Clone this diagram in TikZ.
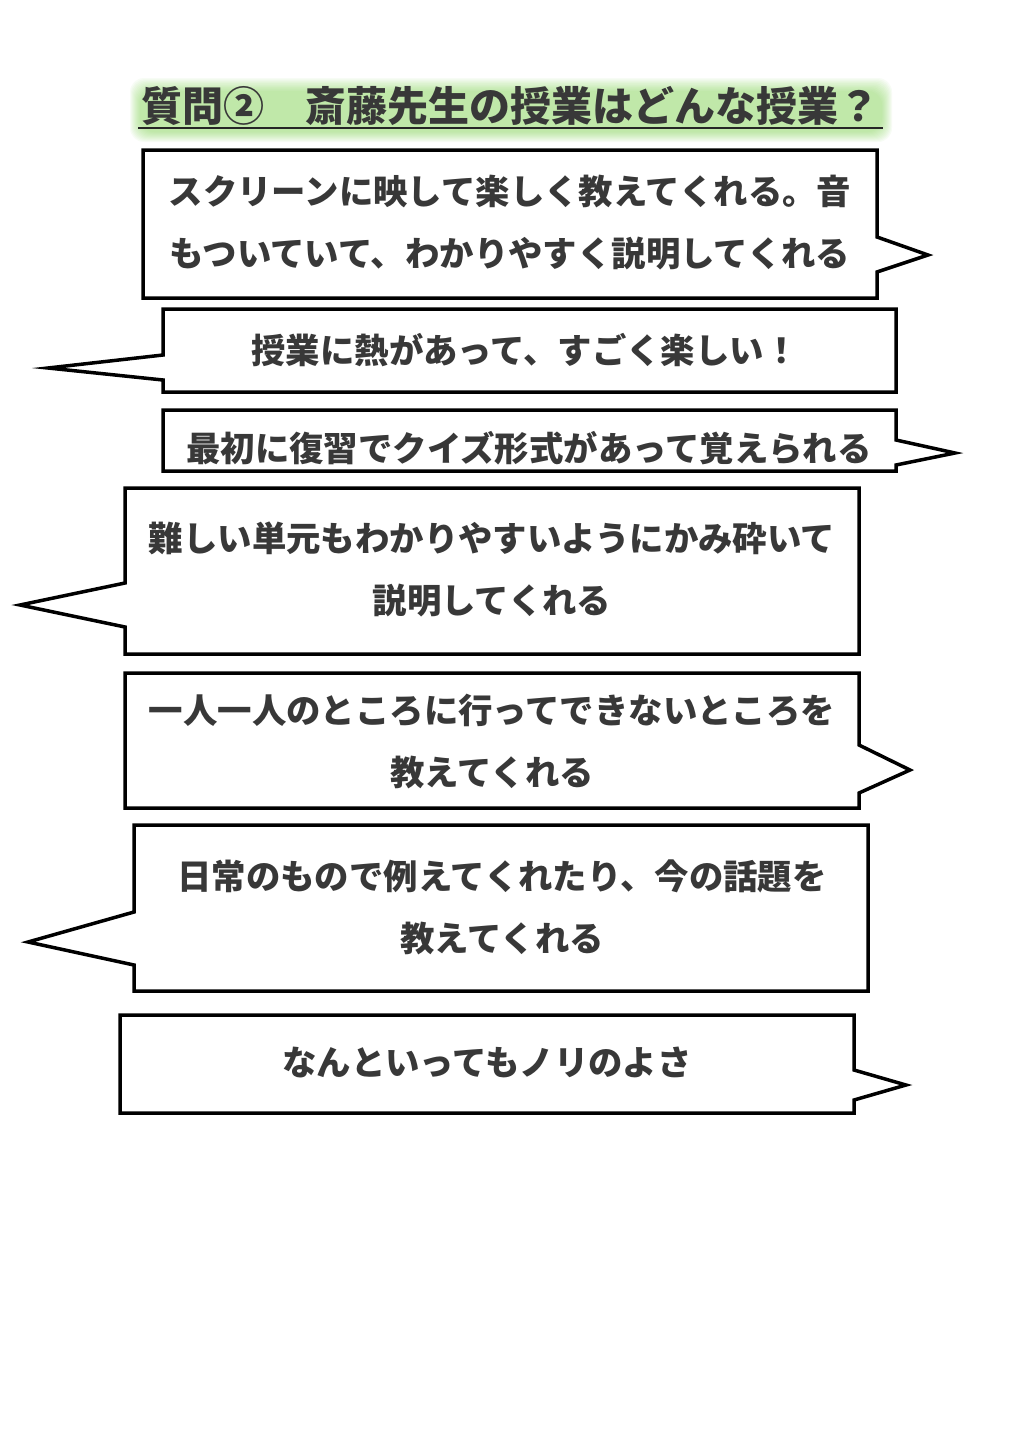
\documentclass[tikz,border=0pt]{standalone}
\usepackage{fontspec}
\newfontfamily\jpfont{Noto Sans CJK JP}
\definecolor{inkgray}{HTML}{383838}
\definecolor{glowgreen}{HTML}{86D858}
\tikzset{
  bubble/.style={draw=black,line width=3.5pt,fill=white,line join=miter},
  says/.style={text=inkgray,align=center,inner sep=0pt,font=\jpfont\bfseries\fontsize{34.4}{62}\selectfont},
  headline/.style={text=inkgray,inner sep=0pt,font=\jpfont\bfseries\fontsize{41}{46}\selectfont}
}
\begin{document}
\begin{tikzpicture}[x=1pt,y=-1pt]
\useasboundingbox[fill=white](0,0)rectangle(1024,1448);
% title on a soft green band
\foreach \g in {0,...,10}
  \fill[glowgreen,opacity=0.06,rounded corners=14](130+\g,78+1.3*\g)rectangle(892-\g,142-\g);
\draw[line width=2pt,black!85](138,128)--(883,128);
\node[headline] (title) at (510,106) {質問②　斎藤先生の授業はどんな授業？};
% bubbles
\draw[bubble](143,150)--(877,150)--(877,237)--(928,255)--(877,272)--(877,298)--(143,298)--cycle;
\node[says] (a1) at (510,223) {スクリーンに映して楽しく教えてくれる。音\\もついていて、わかりやすく説明してくれる};
\draw[bubble](163,309)--(896,309)--(896,392)--(163,392)--(163,380)--(48,368)--(163,355)--cycle;
\node[says] (a2) at (525,350) {授業に熱があって、すごく楽しい！};
\draw[bubble](163,410)--(896,410)--(896,440)--(955,453)--(896,465)--(896,471)--(163,471)--cycle;
\node[says] (a3) at (529,448) {最初に復習でクイズ形式があって覚えられる};
\draw[bubble](125,488)--(859,488)--(859,654)--(125,654)--(125,627)--(20,605)--(125,583)--cycle;
\node[says] (a4) at (492,569) {難しい単元もわかりやすいようにかみ砕いて\\説明してくれる};
\draw[bubble](125,673)--(859,673)--(859,745)--(910,770)--(859,793)--(859,808)--(125,808)--cycle;
\node[says] (a5) at (492,742) {一人一人のところに行ってできないところを\\教えてくれる};
\draw[bubble](134,825)--(868,825)--(868,991)--(134,991)--(134,965)--(28,942)--(134,912)--cycle;
\node[says] (a6) at (502,907) {日常のもので例えてくれたり、今の話題を\\教えてくれる};
\draw[bubble](120,1015)--(854,1015)--(854,1070)--(906,1085)--(854,1100)--(854,1113)--(120,1113)--cycle;
\node[says] (a7) at (487,1062) {なんといってもノリのよさ};
\end{tikzpicture}
\end{document}
